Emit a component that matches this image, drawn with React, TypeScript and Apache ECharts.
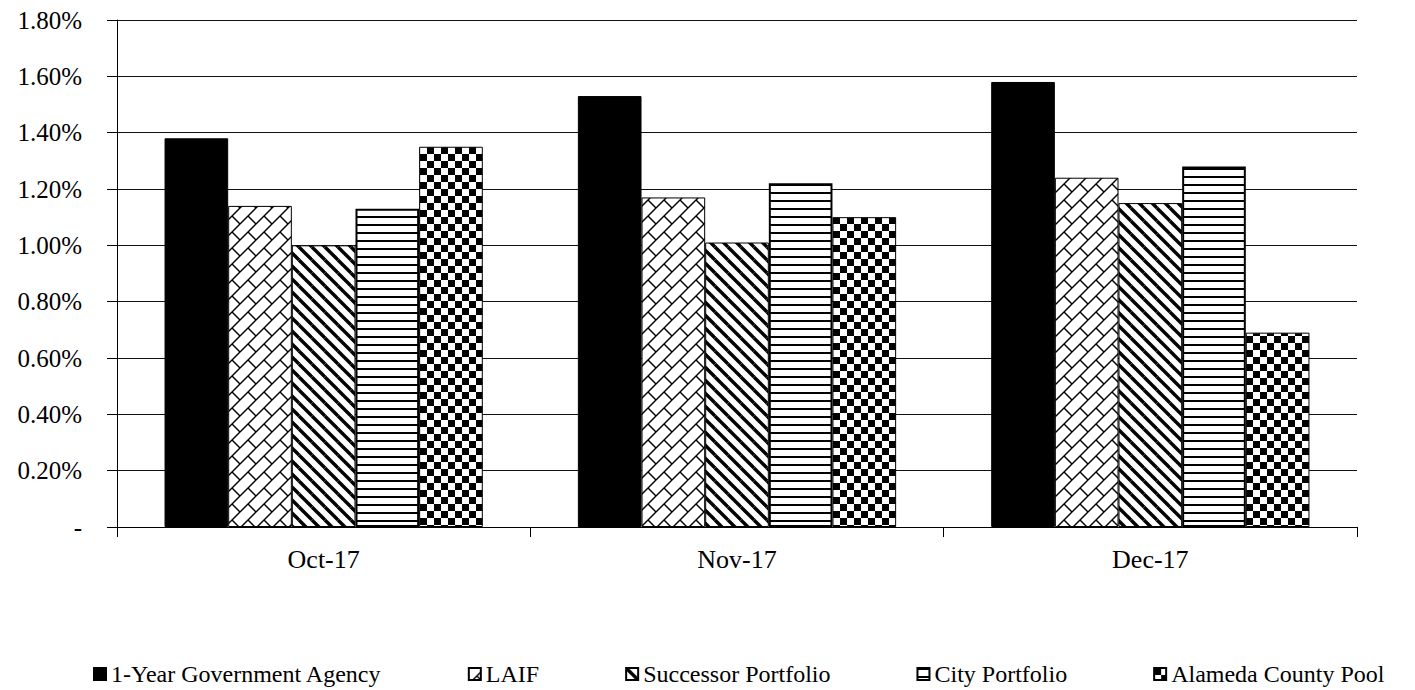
import React, { useEffect, useRef } from "react";
import * as echarts from "echarts";

const categories = ["Oct-17", "Nov-17", "Dec-17"];
const seriesNames = [
  "1-Year Government Agency",
  "LAIF",
  "Successor Portfolio",
  "City Portfolio",
  "Alameda County Pool",
];
const govAgency = [1.38, 1.53, 1.58];
const laif = [1.14, 1.17, 1.24];
const successor = [1.0, 1.01, 1.15];
const cityPortfolio = [1.13, 1.22, 1.28];
const alamedaPool = [1.35, 1.1, 0.69];

const FONT = "'Liberation Serif', 'Times New Roman', serif";

function makeTile(size: number, draw: (ctx: CanvasRenderingContext2D, T: number) => void) {
  const c = document.createElement("canvas");
  c.width = size;
  c.height = size;
  const ctx = c.getContext("2d") as CanvasRenderingContext2D;
  ctx.fillStyle = "#fff";
  ctx.fillRect(0, 0, size, size);
  ctx.strokeStyle = "#000";
  ctx.fillStyle = "#000";
  draw(ctx, size);
  return { image: c, repeat: "repeat", imageWidth: size, imageHeight: size } as any;
}

const offsets = [-1, 0, 1];

export default function App() {
  const ref = useRef<HTMLDivElement>(null);

  useEffect(() => {
    if (!ref.current) return;
    const chart = echarts.init(ref.current, undefined, { renderer: "svg" });

    const laifPattern = makeTile(16, (ctx, T) => {
      ctx.lineWidth = 1.4;
      for (const ox of offsets)
        for (const oy of offsets) {
          const dx = ox * T, dy = oy * T;
          ctx.beginPath();
          ctx.moveTo(dx, dy + T);
          ctx.lineTo(dx + T, dy);
          ctx.stroke();
          ctx.beginPath();
          ctx.moveTo(dx + T / 2, dy + T / 2);
          ctx.lineTo(dx + T, dy + T);
          ctx.stroke();
        }
    });
    const successorPattern = makeTile(13, (ctx, T) => {
      ctx.lineWidth = 3.4;
      for (const ox of offsets)
        for (const oy of offsets) {
          const dx = ox * T, dy = oy * T;
          ctx.beginPath();
          ctx.moveTo(dx, dy);
          ctx.lineTo(dx + T, dy + T);
          ctx.stroke();
        }
    });
    const cityPattern = makeTile(8, (ctx, T) => {
      ctx.fillRect(0, 0, T, 2);
    });
    const alamedaPattern = makeTile(14, (ctx, T) => {
      ctx.fillRect(0, 0, T / 2, T / 2);
      ctx.fillRect(T / 2, T / 2, T / 2, T / 2);
    });

    const dataSets = [govAgency, laif, successor, cityPortfolio, alamedaPool];
    const fills: any[] = ["#000", laifPattern, successorPattern, cityPattern, alamedaPattern];
    const borderWidths = [1, 1, 1, 2, 1];

    chart.setOption({
      animation: false,
      backgroundColor: "#fff",
      grid: { left: 117, right: 58, top: 20, bottom: 163, containLabel: false },
      legend: {
        data: seriesNames,
        left: 88,
        top: 657,
        icon: "rect",
        itemWidth: 12,
        itemHeight: 12,
        itemGap: 86,
        textStyle: { fontFamily: FONT, fontSize: 24, color: "#000" },
      },
      xAxis: {
        type: "category",
        data: categories,
        axisLine: { lineStyle: { color: "#000", width: 1 } },
        axisTick: { show: true, length: 10, alignWithLabel: false, lineStyle: { color: "#000" } },
        axisLabel: { fontFamily: FONT, fontSize: 26, color: "#000", margin: 19 },
        splitLine: { show: false },
      },
      yAxis: {
        type: "value",
        min: 0,
        max: 1.8,
        interval: 0.2,
        axisLine: { show: true, lineStyle: { color: "#000", width: 1 } },
        axisTick: { show: true, length: 10, lineStyle: { color: "#000" } },
        axisLabel: {
          fontFamily: FONT,
          fontSize: 25,
          color: "#000",
          margin: 35,
          formatter: (v: number) => (Math.abs(v) < 1e-9 ? "-" : v.toFixed(2) + "%"),
        },
        splitLine: { show: true, lineStyle: { color: "#111", width: 1 } },
      },
      series: seriesNames.map((name, i) => ({
        name,
        type: "bar",
        data: dataSets[i],
        barGap: "0%",
        barCategoryGap: "23%",
        itemStyle: { color: fills[i], borderColor: "#000", borderWidth: borderWidths[i] },
      })),
    });

    return () => chart.dispose();
  }, []);

  return (
    <div
      ref={ref}
      style={{ position: "fixed", left: 0, top: 0, width: 1415, height: 690, background: "#fff" }}
    />
  );
}
